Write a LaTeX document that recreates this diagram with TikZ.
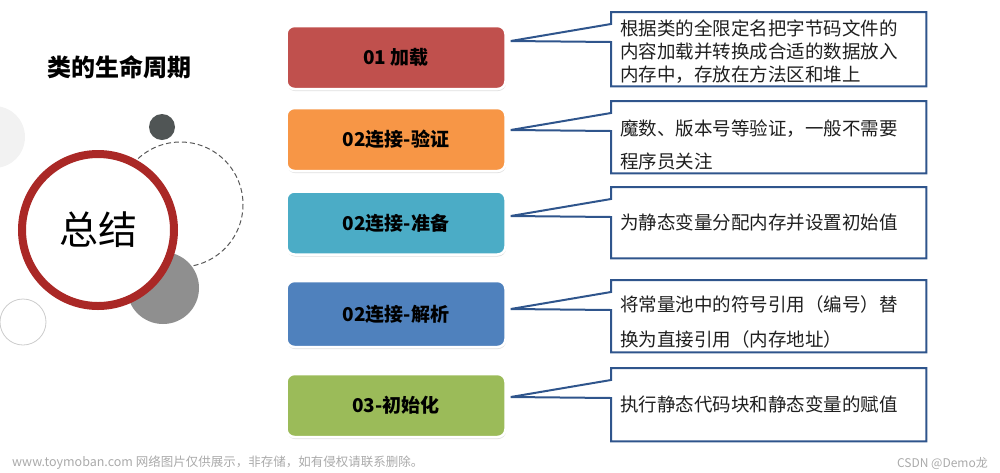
\documentclass[tikz,border=0pt]{standalone}
\usepackage{fontspec}
\setmainfont{Noto Sans CJK SC}
\usetikzlibrary{shadows,calc}
\definecolor{cRed}{RGB}{192,80,77}
\definecolor{cOrange}{RGB}{247,150,70}
\definecolor{cTeal}{RGB}{75,172,198}
\definecolor{cBlue}{RGB}{79,129,189}
\definecolor{cGreen}{RGB}{155,187,89}
\definecolor{cLine}{RGB}{47,85,140}
\definecolor{ringRed}{RGB}{170,40,38}
\definecolor{darkDot}{RGB}{80,85,85}
\definecolor{midGray}{RGB}{143,143,143}
\definecolor{paleGray}{RGB}{242,242,242}
\definecolor{wmGray}{RGB}{170,170,170}
\begin{document}
\begin{tikzpicture}[x=1pt,y=-1pt,
  stage/.style={rectangle, rounded corners=8pt, draw=white, line width=2.5pt,
    minimum width=219pt, minimum height=63pt, text=black,
    font=\fontsize{19}{22}\selectfont\bfseries,
    drop shadow={shadow xshift=0.5pt, shadow yshift=-2pt, opacity=0.25}},
  note/.style={rectangle, anchor=north west, minimum width=315pt, text width=297pt,
    inner xsep=9pt, inner ysep=0pt, align=left, text=black!88},
  callout/.style={draw=cLine, line width=2pt, line join=miter},
  wm/.style={text=wmGray, inner sep=0pt}]
\useasboundingbox (0,0) rectangle (1000,472);

% left decorations
\fill[paleGray] (-6,137) circle (31);
\draw[gray!40, line width=0.8pt] (23,322) circle (23);
\draw[black!65, line width=1pt, dash pattern=on 5pt off 3pt] (180.5,204.5) circle (62.5);
\fill[darkDot] (162,127) circle (13);
\fill[midGray] (163,288) circle (36);
\node[circle, draw=ringRed, line width=8pt, fill=white, minimum size=152pt,
  font=\fontsize{39}{44}\selectfont] (sum) at (98,230) {总结};
\node[font=\fontsize{24}{28}\selectfont\bfseries] (title) at (119,67) {类的生命周期};

% stages
\node[stage, fill=cRed]    (b1) at (396,57.5)  {01 加载};
\node[stage, fill=cOrange] (b2) at (396,139.5) {02连接-验证};
\node[stage, fill=cTeal]   (b3) at (396,223)   {02连接-准备};
\node[stage, fill=cBlue, minimum height=66pt] (b4) at (396,314) {02连接-解析};
\node[stage, fill=cGreen]  (b5) at (396,405.5) {03-初始化};

% callout texts
\node[note, minimum height=74pt, font=\fontsize{18.5}{23}\selectfont] (c1) at (611,12)
  {\rule{0pt}{20pt}根据类的全限定名把字节码文件的\\内容加载并转换成合适的数据放入\\内存中，存放在方法区和堆上};
\node[note, minimum height=72pt, font=\fontsize{18.5}{33}\selectfont] (c2) at (611,101)
  {\rule{0pt}{32pt}魔数、版本号等验证，一般不需要\\程序员关注};
\node[note, minimum height=71pt, font=\fontsize{18.5}{33}\selectfont] (c3) at (611,187)
  {为静态变量分配内存并设置初始值};
\node[note, minimum height=72pt, font=\fontsize{18.5}{35}\selectfont] (c4) at (611,280)
  {\rule{0pt}{28pt}将常量池中的符号引用（编号）替\\换为直接引用（内存地址）};
\node[note, minimum height=73pt, font=\fontsize{18.5}{33}\selectfont] (c5) at (611,368)
  {执行静态代码块和静态变量的赋值};

% callout outlines with pointers
\foreach \i in {1,...,5}{
  \draw[callout] (c\i.north west) -- (c\i.north east) -- (c\i.south east) -- (c\i.south west)
    -- ($(c\i.north west)+(0,30)$) -- ($(b\i.east |- c\i.north west)+(4,29)$)
    -- ($(c\i.north west)+(0,12)$) -- cycle;
}

% watermarks
\node[wm, anchor=west, font=\fontsize{12.5}{15}\selectfont] (wm1) at (12,463)
  {www.toymoban.com 网络图片仅供展示，非存储，如有侵权请联系删除。};
\node[wm, anchor=east, font=\fontsize{12}{14}\selectfont] (wm2) at (988,463) {CSDN @Demo龙};
\end{tikzpicture}
\end{document}
